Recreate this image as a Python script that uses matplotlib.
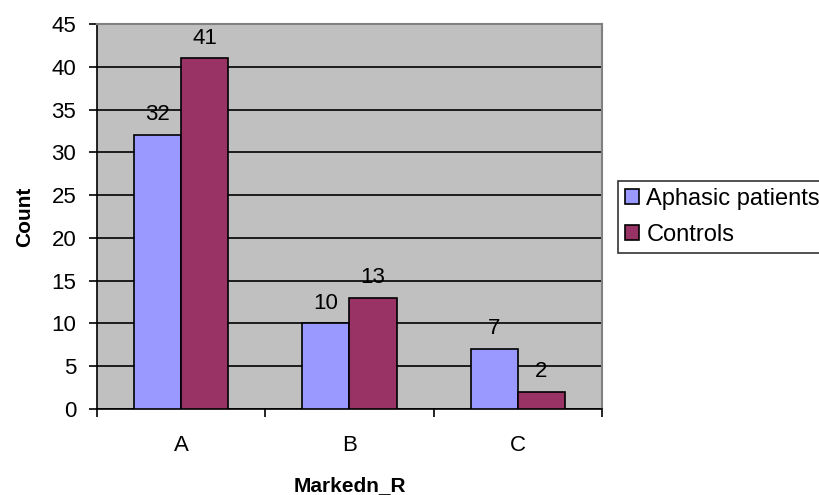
import matplotlib
matplotlib.use('Agg')
from matplotlib import pyplot as plt
from matplotlib.ticker import FixedLocator
import numpy as np

categories = ['A', 'B', 'C']
aphasic = [32, 10, 7]
controls = [41, 13, 2]
series_names = ['Aphasic patients', 'Controls']

plt.rcParams['font.family'] = ['Liberation Sans', 'DejaVu Sans']

fig = plt.figure(figsize=(8.2, 4.95), dpi=100)
ax = fig.add_axes([97 / 820, 1 - 409 / 495, 505 / 820, 385 / 495])
ax.set_facecolor('#C0C0C0')

x = np.arange(len(categories))
w = 0.28
b1 = ax.bar(x - w / 2, aphasic, w, color='#9999FF', edgecolor='black', linewidth=1.2, label=series_names[0], zorder=3)
b2 = ax.bar(x + w / 2, controls, w, color='#993366', edgecolor='black', linewidth=1.2, label=series_names[1], zorder=3)

# value labels above each bar
for c in (b1, b2):
    ax.bar_label(c, padding=7, fontsize=16)

ax.set_xlim(-0.5, len(categories) - 0.5)
ax.set_ylim(0, 45)
ax.set_yticks(range(0, 46, 5))
ax.yaxis.grid(True, color='black', linewidth=1.2, zorder=1)
ax.set_axisbelow(True)

ax.set_xticks(x)
ax.set_xticklabels(categories)
ax.xaxis.set_minor_locator(FixedLocator(np.arange(-0.5, len(categories), 1.0)))
ax.tick_params(axis='x', which='major', length=0, pad=19, labelsize=16)
ax.tick_params(axis='x', which='minor', length=6, direction='out', width=1.2)
ax.tick_params(axis='y', length=6, direction='out', width=1.2, labelsize=16, pad=9)

for side in ('left', 'bottom'):
    ax.spines[side].set_linewidth(1.2)
ax.spines['top'].set_color('#808080')
ax.spines['right'].set_color('#808080')
ax.spines['top'].set_linewidth(1.5)
ax.spines['right'].set_linewidth(1.5)

ax.set_xlabel('Markedn_R', fontsize=15, fontweight='bold', labelpad=14)
ax.set_ylabel('Count', fontsize=15, fontweight='bold', labelpad=12)

leg = fig.legend(
    loc='upper left',
    bbox_to_anchor=(618 / 820, 1 - 181 / 495),
    fontsize=17,
    frameon=True,
    fancybox=False,
    edgecolor='black',
    handlelength=0.6,
    handleheight=0.6,
    handletextpad=0.3,
    borderpad=0.3,
    labelspacing=0.6,
    borderaxespad=0,
)
leg.get_frame().set_linewidth(1.2)

plt.savefig('out.png', dpi=100)
